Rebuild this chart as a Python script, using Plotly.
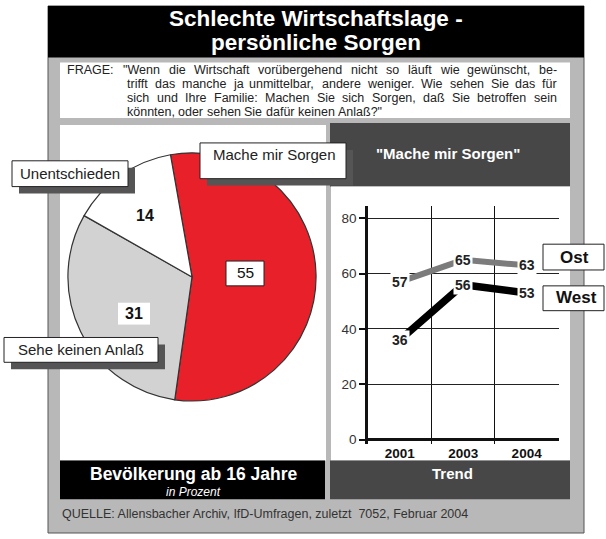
import plotly.graph_objects as go

W, H = 606, 539
FONT = "Liberation Sans, Arial, sans-serif"

# ---- data ----
pie_labels = ["Mache mir Sorgen", "Sehe keinen Anlaß", "Unentschieden"]
pie_values = [55, 31, 14]
pie_colors = ["#e8202a", "#d2d2d2", "#ffffff"]

years = ["2001", "2003", "2004"]
ost = [57, 65, 63]
west = [36, 56, 53]
y_ticks = [0, 20, 40, 60, 80]

title_lines = ["Schlechte Wirtschaftslage -", "persönliche Sorgen"]
question_lines = [
    "\"Wenn die Wirtschaft vorübergehend nicht so läuft wie gewünscht, be-",
    "trifft das manche ja unmittelbar, andere weniger. Wie sehen Sie das für",
    "sich und Ihre Familie: Machen Sie sich Sorgen, daß Sie betroffen sein",
    "könnten, oder sehen Sie dafür keinen Anlaß?\"",
]
source = "QUELLE: Allensbacher Archiv, IfD-Umfragen, zuletzt  7052, Februar 2004"

# Arial advance widths (1/1000 em), used to justify the question text
AW = {" ": 278, "\"": 355, ",": 278, "-": 333, ".": 278, ":": 278, "?": 556,
      "A": 667, "B": 667, "C": 722, "D": 722, "E": 667, "F": 611, "G": 778, "H": 722,
      "I": 278, "J": 500, "K": 667, "L": 556, "M": 833, "N": 722, "O": 778, "P": 667,
      "Q": 778, "R": 722, "S": 667, "T": 611, "U": 722, "V": 667, "W": 944,
      "a": 556, "b": 556, "c": 500, "d": 556, "e": 556, "f": 278, "g": 556, "h": 556,
      "i": 222, "j": 222, "k": 500, "l": 222, "m": 833, "n": 556, "o": 556, "p": 556,
      "q": 556, "r": 333, "s": 500, "t": 278, "u": 556, "v": 500, "w": 722, "x": 500,
      "y": 500, "z": 500, "ä": 556, "ö": 556, "ü": 556, "ß": 611}


def tw(s, size):
    return sum(AW.get(c, 556) for c in s) * size / 1000.0


def X(px):
    return px / W


def Y(py):
    return 1 - py / H


fig = go.Figure()

fig.add_trace(go.Pie(
    labels=pie_labels, values=pie_values, sort=False, direction="clockwise",
    rotation=-10, textinfo="none", hoverinfo="label+value",
    marker=dict(colors=pie_colors, line=dict(color="#333333", width=1.2)),
    domain=dict(x=[X(67), X(317)], y=[Y(404), Y(154)]), showlegend=False,
))

xs = list(range(len(years)))
fig.add_trace(go.Scatter(x=xs, y=ost, mode="lines", line=dict(color="#7c7c7c", width=6),
                         showlegend=False, xaxis="x", yaxis="y"))
fig.add_trace(go.Scatter(x=xs, y=west, mode="lines", line=dict(color="#000000", width=7.5),
                         showlegend=False, xaxis="x", yaxis="y"))

shapes = []


def rect(x0, y0, x1, y1, fill, line=None, lw=0, layer="below"):
    shapes.append(dict(type="rect", xref="paper", yref="paper",
                       x0=X(x0), x1=X(x1), y0=Y(y1), y1=Y(y0),
                       fillcolor=fill, layer=layer,
                       line=dict(color=line or fill, width=lw)))


# frame and panels
rect(48, 6, 584, 537, "#b8b8b8", "#555555", 1)
rect(48, 6, 584, 58, "#000000")
rect(60, 63, 570, 119, "#ffffff")
rect(60, 126, 326, 464, "#ffffff")
rect(330, 124, 570, 188, "#474747")
rect(331, 188, 570, 464, "#ffffff")
rect(60, 464, 325, 503, "#000000")
rect(330, 464, 570, 503, "#474747")

# label boxes with shadows (above pie)
for (x0, y0, x1, y1) in [(12, 162, 128, 188), (200, 144, 346, 180), (4, 340, 158, 365)]:
    rect(x0 + 7, y0 + 7, x1 + 7, y1 + 7, "#555555", layer="above")
    rect(x0, y0, x1, y1, "#ffffff", "#222222", 1, layer="above")
rect(226, 263, 264, 288, "#ffffff", "#222222", 1, layer="above")
rect(118, 305, 150, 327, "#ffffff", layer="above")
rect(543, 246, 604, 272, "#ffffff", "#222222", 1, layer="above")
rect(543, 288, 604, 313, "#ffffff", "#222222", 1, layer="above")

ann = []


def txt(x, y, s, size=12, color="#222222", bold=False, italic=False, xanchor="center", **kw):
    if bold:
        s = "<b>" + s + "</b>"
    if italic:
        s = "<i>" + s + "</i>"
    ann.append(dict(x=X(x), y=Y(y), xref="paper", yref="paper", text=s, showarrow=False,
                    xanchor=xanchor, yanchor="middle",
                    font=dict(family=FONT, size=size, color=color), **kw))


txt(316, 19, title_lines[0], 22.5, "#ffffff", bold=True)
txt(316, 43, title_lines[1], 22.5, "#ffffff", bold=True)

# question text, justified word by word
QS = 12.5
txt(67 - 2, 71, "FRAGE:", QS, "#222222", xanchor="left")
qy = [71, 85, 99, 113]
for i, line in enumerate(question_lines):
    x0 = 123 if i == 0 else 127
    x1 = 557
    words = line.split(" ")
    widths = [tw(w, QS) for w in words]
    last = i == len(question_lines) - 1
    gap = tw(" ", QS) if last else (x1 - x0 - sum(widths)) / (len(words) - 1)
    x = x0
    for w, wd in zip(words, widths):
        txt(x - 2, qy[i], w, QS, "#222222", xanchor="left")
        x += wd + gap

txt(70, 175, pie_labels[2], 15)
txt(211, 156, pie_labels[0], 15, xanchor="left")
txt(81, 352, pie_labels[1], 15)
txt(245, 275, str(pie_values[0]), 15.5, "#111111")
txt(134, 316, str(pie_values[1]), 16, "#111111", bold=True)
txt(145, 217, str(pie_values[2]), 16, "#111111", bold=True)

txt(448, 155, "\"Mache mir Sorgen\"", 15, "#ffffff", bold=True)
txt(193, 478, "Bevölkerung ab 16 Jahre", 17.5, "#ffffff", bold=True)
txt(193, 496, "in Prozent", 12, "#ffffff", italic=True)
txt(452, 477, "Trend", 15, "#ffffff", bold=True)
txt(60, 518, source, 12.5, "#333333", xanchor="left")

txt(574, 259, "Ost", 17, "#111111", bold=True)
txt(576, 300, "West", 17, "#111111", bold=True)

for series in (ost, west):
    for i, v in enumerate(series):
        ann.append(dict(x=i, y=v, xref="x", yref="y", text="<b>%d</b>" % v, showarrow=False,
                        bgcolor="#ffffff", borderpad=1,
                        font=dict(family=FONT, size=14, color="#222222")))

fig.update_layout(
    width=W, height=H, margin=dict(l=0, r=0, t=0, b=0),
    paper_bgcolor="#ffffff", plot_bgcolor="rgba(0,0,0,0)",
    font=dict(family=FONT),
    shapes=shapes, annotations=ann,
    xaxis=dict(domain=[X(368), X(559)], range=[-0.5, 2.51], tickvals=xs, ticktext=years,
               showgrid=False, zeroline=False, showline=False, ticks="",
               tickfont=dict(family=FONT, size=13.5, color="#111111", weight="bold"),
               minor=dict(tickvals=[-0.5, 0.5, 1.5, 2.5], showgrid=True, gridcolor="#111111",
                          gridwidth=1.2),
               fixedrange=True),
    yaxis=dict(domain=[Y(447), Y(208)], range=[-1.5, 84.3], tickvals=y_ticks,
               showgrid=True, gridcolor="#222222", gridwidth=1,
               ticks="outside", ticklen=6, tickcolor="#111111", tickwidth=1.5,
               showline=True, linecolor="#111111", linewidth=2.5,
               zeroline=True, zerolinecolor="#111111", zerolinewidth=2.5,
               tickfont=dict(family=FONT, size=13.5, color="#333333"), fixedrange=True),
)

fig.write_html("out.html", config={"displayModeBar": False},
               post_script="document.body.style.margin='0';document.body.style.overflow='hidden';")
